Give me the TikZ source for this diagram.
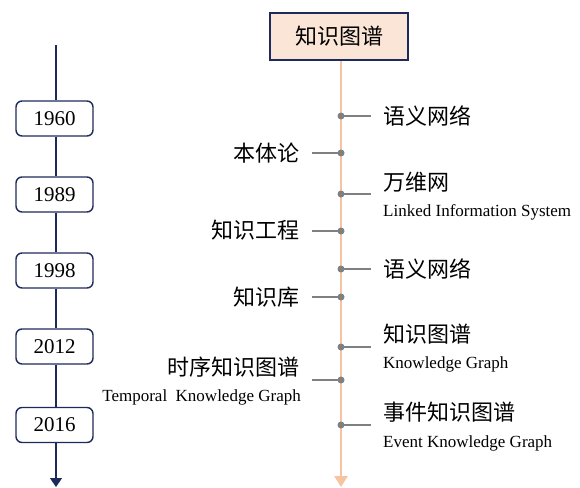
\documentclass[tikz,border=0pt]{standalone}
\usepackage{fontspec}
\setmainfont{Liberation Serif}
\newfontfamily\cjk{Noto Sans CJK SC}
\usetikzlibrary{arrows.meta}
\definecolor{navy}{RGB}{31,42,92}
\definecolor{peach}{RGB}{246,196,160}
\definecolor{titlefill}{RGB}{251,229,214}
\definecolor{dotgrey}{RGB}{128,128,128}
\tikzset{
  yearbox/.style={draw=navy, line width=1.4pt, rounded corners=6pt, fill=white,
    minimum width=77pt, minimum height=35pt, inner sep=0pt,
    font=\fontsize{21}{21}\selectfont},
  titlebox/.style={draw=navy, line width=1.4pt, fill=titlefill,
    minimum width=138pt, minimum height=47pt, inner sep=0pt,
    font=\cjk\fontsize{22}{22}\selectfont},
  navyline/.style={draw=navy, line width=1.4pt},
  peachline/.style={draw=peach, line width=2.6pt},
  dot/.style={circle, fill=dotgrey, inner sep=0pt, minimum size=7pt},
  stub/.style={draw=dotgrey, line width=1.3pt},
  zh/.style={inner sep=0pt, font=\cjk\fontsize{22}{22}\selectfont},
  en/.style={inner sep=0pt, font=\fontsize{17}{17}\selectfont},
}
\begin{document}
\begin{tikzpicture}[x=1pt,y=-1pt]
\useasboundingbox (0,0) rectangle (580,487);
% left timeline
\coordinate (ltop) at (56,45);
\coordinate (lend) at (56,487);
\node[yearbox] (y1) at (54.5,118.5) {1960};
\node[yearbox] (y2) at (54.5,194.5) {1989};
\node[yearbox] (y3) at (54.5,270.5) {1998};
\node[yearbox] (y4) at (54.5,346.5) {2012};
\node[yearbox] (y5) at (54.5,425) {2016};
\draw[navyline] (ltop) -- (ltop |- y1.north);
\draw[navyline] (ltop |- y1.south) -- (ltop |- y2.north);
\draw[navyline] (ltop |- y2.south) -- (ltop |- y3.north);
\draw[navyline] (ltop |- y3.south) -- (ltop |- y4.north);
\draw[navyline] (ltop |- y4.south) -- (ltop |- y5.north);
\draw[navyline, -{Triangle[width=12pt,length=9pt]}] (ltop |- y5.south) -- (lend);
% right timeline
\node[titlebox] (title) at (339,36.5) {知识图谱};
\coordinate (rend) at (341,487);
\draw[peachline, -{Triangle[width=13pt,length=11pt]}] (title.south -| rend) -- (rend);
% dots
\node[dot] (d1) at (341,116) {};
\node[dot] (d2) at (341,153) {};
\node[dot] (d3) at (341,194) {};
\node[dot] (d4) at (341,231) {};
\node[dot] (d5) at (341,269) {};
\node[dot] (d6) at (341,297) {};
\node[dot] (d7) at (341,347) {};
\node[dot] (d8) at (341,380) {};
\node[dot] (d9) at (341,425) {};
% stub ends
\coordinate (s1) at (371,116);
\coordinate (s2) at (312,153);
\coordinate (s3) at (371,194);
\coordinate (s4) at (312,231);
\coordinate (s5) at (371,269);
\coordinate (s6) at (312,297);
\coordinate (s7) at (371,347);
\coordinate (s8) at (312,380);
\coordinate (s9) at (371,425);
\foreach \i in {1,...,9} { \draw[stub] (d\i.center) -- (s\i); }
% right labels
\node[zh, anchor=west] (t1) at (383,116) {语义网络};
\node[zh, anchor=west] (t3) at (383,182) {万维网};
\node[en, anchor=west] (e3) at (383,212) {Linked Information System};
\node[zh, anchor=west] (t5) at (383,269) {语义网络};
\node[zh, anchor=west] (t7) at (383,334) {知识图谱};
\node[en, anchor=west] (e7) at (383,364) {Knowledge Graph};
\node[zh, anchor=west] (t9) at (383,412) {事件知识图谱};
\node[en, anchor=west] (e9) at (383,443) {Event Knowledge Graph};
% left labels
\node[zh, anchor=east] (t2) at (300,153) {本体论};
\node[zh, anchor=east] (t4) at (300,230) {知识工程};
\node[zh, anchor=east] (t6) at (300,297) {知识库};
\node[zh, anchor=east] (t8) at (300,367) {时序知识图谱};
\node[en, anchor=east] (e8) at (301,397) {Temporal\ \ Knowledge Graph};
\end{tikzpicture}
\end{document}
